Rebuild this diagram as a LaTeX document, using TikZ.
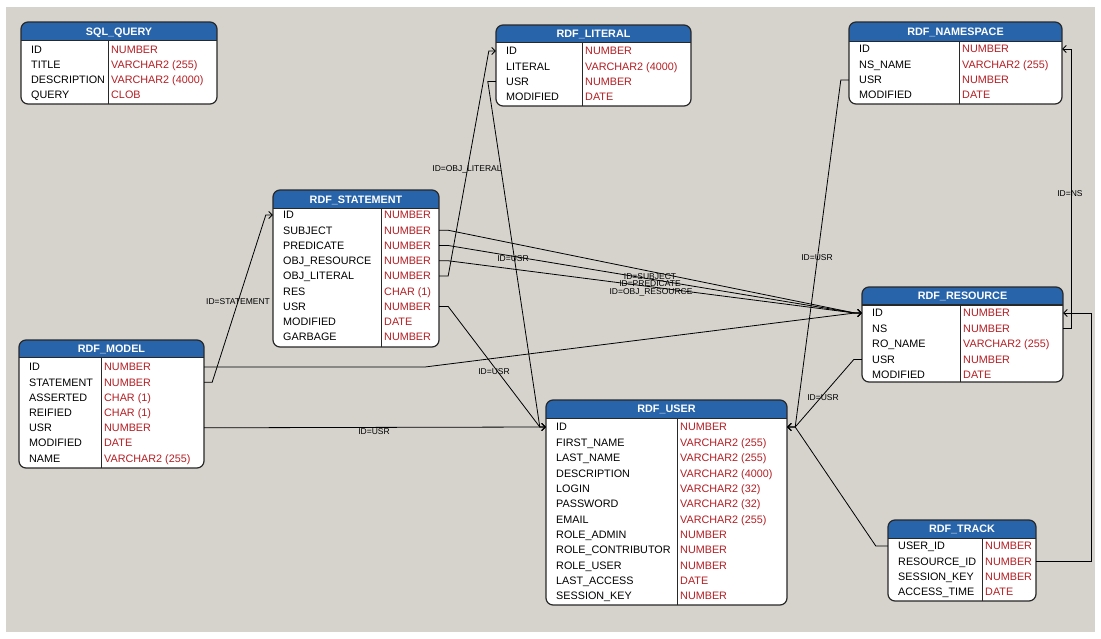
\documentclass[tikz,border=0pt]{standalone}
\usepackage{fontspec}
\setmainfont{Liberation Sans}
\usetikzlibrary{arrows.meta,fit}
\definecolor{bggray}{RGB}{214,211,205}
\definecolor{hdrblue}{RGB}{40,100,170}
\definecolor{typred}{RGB}{180,30,35}
\definecolor{edgecol}{RGB}{40,40,40}
\tikzset{
 tabframe/.style={draw=edgecol, line width=1.2pt, rounded corners=7pt, inner sep=0pt},
 tabline/.style={draw=edgecol, line width=1pt},
 titletxt/.style={text=white, font=\fontsize{10.8}{12}\selectfont\bfseries, inner sep=0pt, text height=7.8pt, text depth=0pt},
 rowanchor/.style={inner sep=0pt, draw=none},
 fieldtxt/.style={anchor=base west, inner sep=0pt, font=\fontsize{10.8}{12}\selectfont, text=black},
 typetxt/.style={anchor=base west, inner sep=0pt, font=\fontsize{10.8}{12}\selectfont, text=typred},
 rel/.style={draw=black, line width=0.8pt, -{Straight Barb[length=3.5pt,width=7pt]}},
 rellabel/.style={font=\fontsize{8.5}{9}\selectfont, inner sep=0pt},
}
% #1 name, #2 left, #3 top, #4 right, #5 header bottom, #6 bottom, #7 divider, #8 title
\newcommand\ertab[8]{%
 \begin{scope}
 \clip[rounded corners=7pt] (#2,#3) rectangle (#4,#6);
 \fill[white] (#2,#3) rectangle (#4,#6);
 \fill[hdrblue] (#2,#3) rectangle (#4,#5);
 \end{scope}
 \draw[tabline] (#2,#5) -- (#4,#5);
 \draw[tabline] (#7,#5) -- (#7,#6);
 \node[tabframe, fit={(#2,#3)(#4,#6)}] (#1) {};
 \node[titletxt] (#1-t) at ({(#2+#4)/2},{(#3+#5)/2}) {#8};
}
% #1 name, #2 left, #3 right, #4 divider, #5 y, #6 field, #7 type
\newcommand\errow[7]{%
 \node[rowanchor, fit={(#2,#5-7)(#3,#5+7)}] (#1) {};
 \node[fieldtxt] (#1-f) at (#2+10,#5+3.9) {#6};
 \node[typetxt] (#1-y) at (#4+3,#5+3.9) {#7};
}
\begin{document}
\begin{tikzpicture}[x=1pt,y=-1pt]
\useasboundingbox (0,0) rectangle (1101,639);
\fill[white] (0,0) rectangle (1101,639);
\fill[bggray] (6,7) rectangle (1095,632);

% SQL_QUERY
\ertab{sq}{21}{22}{217}{41}{104}{108}{SQL\_QUERY}
\errow{sq-id}{21}{217}{108}{50}{ID}{NUMBER}
\errow{sq-title}{21}{217}{108}{65}{TITLE}{VARCHAR2 (255)}
\errow{sq-desc}{21}{217}{108}{80}{DESCRIPTION}{VARCHAR2 (4000)}
\errow{sq-query}{21}{217}{108}{95}{QUERY}{CLOB}

% RDF_LITERAL
\ertab{lit}{496}{25}{691}{43}{106}{582}{RDF\_LITERAL}
\errow{lit-id}{496}{691}{582}{51}{ID}{NUMBER}
\errow{lit-lit}{496}{691}{582}{66.3}{LITERAL}{VARCHAR2 (4000)}
\errow{lit-usr}{496}{691}{582}{81.6}{USR}{NUMBER}
\errow{lit-mod}{496}{691}{582}{96.9}{MODIFIED}{DATE}

% RDF_NAMESPACE
\ertab{ns}{849}{22}{1062}{42}{104}{959}{RDF\_NAMESPACE}
\errow{ns-id}{849}{1062}{959}{49}{ID}{NUMBER}
\errow{ns-name}{849}{1062}{959}{64.5}{NS\_NAME}{VARCHAR2 (255)}
\errow{ns-usr}{849}{1062}{959}{80}{USR}{NUMBER}
\errow{ns-mod}{849}{1062}{959}{95}{MODIFIED}{DATE}

% RDF_STATEMENT
\ertab{st}{273}{190}{439}{209}{347}{381}{RDF\_STATEMENT}
\errow{st-id}{273}{439}{381}{215}{ID}{NUMBER}
\errow{st-subj}{273}{439}{381}{230.25}{SUBJECT}{NUMBER}
\errow{st-pred}{273}{439}{381}{245.5}{PREDICATE}{NUMBER}
\errow{st-objres}{273}{439}{381}{260.75}{OBJ\_RESOURCE}{NUMBER}
\errow{st-objlit}{273}{439}{381}{276}{OBJ\_LITERAL}{NUMBER}
\errow{st-res}{273}{439}{381}{291.25}{RES}{CHAR (1)}
\errow{st-usr}{273}{439}{381}{306.5}{USR}{NUMBER}
\errow{st-mod}{273}{439}{381}{321.75}{MODIFIED}{DATE}
\errow{st-garb}{273}{439}{381}{337}{GARBAGE}{NUMBER}

% RDF_MODEL
\ertab{mo}{19}{340}{204}{357}{468}{101}{RDF\_MODEL}
\errow{mo-id}{19}{204}{101}{367}{ID}{NUMBER}
\errow{mo-stmt}{19}{204}{101}{382.2}{STATEMENT}{NUMBER}
\errow{mo-ass}{19}{204}{101}{397.4}{ASSERTED}{CHAR (1)}
\errow{mo-reif}{19}{204}{101}{412.6}{REIFIED}{CHAR (1)}
\errow{mo-usr}{19}{204}{101}{427.8}{USR}{NUMBER}
\errow{mo-mod}{19}{204}{101}{443}{MODIFIED}{DATE}
\errow{mo-name}{19}{204}{101}{458.2}{NAME}{VARCHAR2 (255)}

% RDF_RESOURCE
\ertab{re}{862}{287}{1063}{305}{382}{960}{RDF\_RESOURCE}
\errow{re-id}{862}{1063}{960}{313}{ID}{NUMBER}
\errow{re-ns}{862}{1063}{960}{328.5}{NS}{NUMBER}
\errow{re-name}{862}{1063}{960}{344}{RO\_NAME}{VARCHAR2 (255)}
\errow{re-usr}{862}{1063}{960}{359.5}{USR}{NUMBER}
\errow{re-mod}{862}{1063}{960}{375}{MODIFIED}{DATE}

% RDF_USER
\ertab{us}{546}{400}{787}{418}{605}{677}{RDF\_USER}
\errow{us-id}{546}{787}{677}{427}{ID}{NUMBER}
\errow{us-first}{546}{787}{677}{442.4}{FIRST\_NAME}{VARCHAR2 (255)}
\errow{us-last}{546}{787}{677}{457.7}{LAST\_NAME}{VARCHAR2 (255)}
\errow{us-desc}{546}{787}{677}{473.1}{DESCRIPTION}{VARCHAR2 (4000)}
\errow{us-login}{546}{787}{677}{488.4}{LOGIN}{VARCHAR2 (32)}
\errow{us-pass}{546}{787}{677}{503.8}{PASSWORD}{VARCHAR2 (32)}
\errow{us-mail}{546}{787}{677}{519.2}{EMAIL}{VARCHAR2 (255)}
\errow{us-radm}{546}{787}{677}{534.5}{ROLE\_ADMIN}{NUMBER}
\errow{us-rcon}{546}{787}{677}{549.9}{ROLE\_CONTRIBUTOR}{NUMBER}
\errow{us-rusr}{546}{787}{677}{565.2}{ROLE\_USER}{NUMBER}
\errow{us-lacc}{546}{787}{677}{580.6}{LAST\_ACCESS}{DATE}
\errow{us-sess}{546}{787}{677}{596}{SESSION\_KEY}{NUMBER}

% RDF_TRACK
\ertab{tr}{888}{520}{1036}{538}{601}{982}{RDF\_TRACK}
\errow{tr-uid}{888}{1036}{982}{546}{USER\_ID}{NUMBER}
\errow{tr-res}{888}{1036}{982}{561.3}{RESOURCE\_ID}{NUMBER}
\errow{tr-sess}{888}{1036}{982}{576.7}{SESSION\_KEY}{NUMBER}
\errow{tr-time}{888}{1036}{982}{592}{ACCESS\_TIME}{DATE}

% relations
\draw[rel] (mo-stmt.east) -- ++(8,0) -- ([xshift=-7pt]st-id.west) -- (st-id.west);
\draw[rel] (mo-id.east) -- (425,367) -- ([xshift=-7pt]re-id.west) -- (re-id.west);
\draw[rel] (mo-usr.east) -- (us-id.west);
\draw[rel] (st-subj.east) -- ++(9,0) -- ([xshift=-7pt]re-id.west) -- (re-id.west);
\draw[rel] (st-pred.east) -- ++(9,0) -- ([xshift=-7pt]re-id.west) -- (re-id.west);
\draw[rel] (st-objres.east) -- ++(9,0) -- ([xshift=-7pt]re-id.west) -- (re-id.west);
\draw[rel] (st-objlit.east) -- ++(9,0) -- ([xshift=-7pt]lit-id.west) -- (lit-id.west);
\draw[rel] (st-usr.east) -- ++(9,0) -- ([xshift=-6pt]us-id.west) -- (us-id.west);
\draw[rel] (lit-usr.west) -- ++(-8,0) -- ([xshift=-6pt]us-id.west) -- (us-id.west);
\draw[rel] (ns-usr.west) -- ++(-8,0) -- ([xshift=8pt]us-id.east) -- (us-id.east);
\draw[rel] (re-usr.west) -- ++(-8,0) -- ([xshift=8pt]us-id.east) -- (us-id.east);
\draw[rel] (tr-uid.west) -- ++(-12,0) -- ([xshift=8pt]us-id.east) -- (us-id.east);
\draw[rel] (re-ns.east) -- ++(8,0) |- (ns-id.east);
\draw[rel] (tr-res.east) -- ++(55,0) |- (re-id.east);

% relation labels
\node[rellabel] (l-objlit) at (467,169) {ID=OBJ\_LITERAL};
\node[rellabel] (l-stmt) at (238,302) {ID=STATEMENT};
\node[rellabel] (l-litusr) at (513,259) {ID=USR};
\node[rellabel] (l-stusr) at (494,372) {ID=USR};
\node[rellabel] (l-mousr) at (374,432) {ID=USR};
\node[rellabel] (l-subj) at (650,277) {ID=SUBJECT};
\node[rellabel] (l-pred) at (650,284) {ID=PREDICATE};
\node[rellabel] (l-objres) at (651,292) {ID=OBJ\_RESOURCE};
\node[rellabel] (l-nsusr) at (817,258) {ID=USR};
\node[rellabel] (l-reusr) at (823,398) {ID=USR};
\node[rellabel] (l-ns) at (1070,194) {ID=NS};
\end{tikzpicture}
\end{document}
